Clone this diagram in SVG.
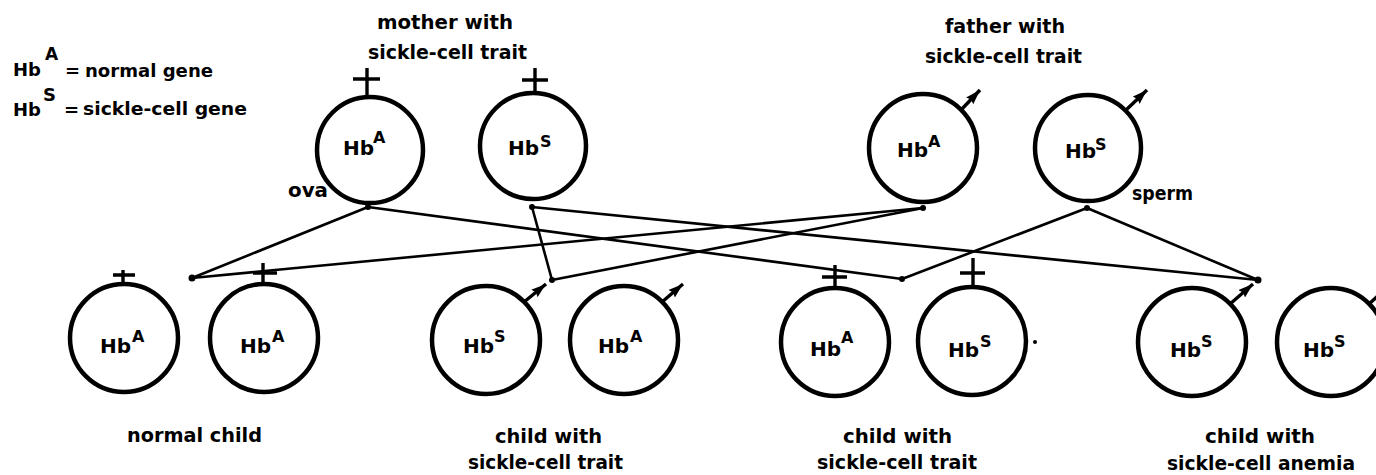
<svg xmlns="http://www.w3.org/2000/svg" width="1376" height="475" viewBox="0 0 1376 475">
<defs>
<style>
.cell{fill:none;stroke:#000;stroke-width:4.5}
.sym{fill:none;stroke:#000;stroke-width:3.4}
.con{fill:none;stroke:#000;stroke-width:2.6;stroke-linecap:round}
.dot{fill:#000}
text{font-family:"DejaVu Sans","Liberation Sans",Arial,sans-serif;font-weight:bold;fill:#000}
.hb{font-size:20px}
.sup{font-size:16px}
.lbl{font-size:19px}
.leg{font-size:18px}
</style>
<marker id="ah" markerUnits="userSpaceOnUse" markerWidth="18" markerHeight="12" refX="15" refY="5" orient="auto">
<path d="M0,0 L15,5 L0,10 L2,5 Z" fill="#000"/>
</marker>
</defs>
<rect width="1376" height="475" fill="#fff"/>

<g id="legend">
<text class="hb" x="13" y="76" style="font-size:18px">Hb</text><text class="sup" x="45" y="60" style="font-size:17px">A</text>
<text class="leg" x="65" y="77">=</text>
<text class="leg" x="85" y="77" textLength="128" lengthAdjust="spacingAndGlyphs">normal gene</text>
<text class="hb" x="13" y="116" style="font-size:18px">Hb</text><text class="sup" x="43" y="101" style="font-size:18px">S</text>
<text class="leg" x="64" y="116">=</text>
<text class="leg" x="83" y="115" textLength="164" lengthAdjust="spacingAndGlyphs">sickle-cell gene</text>
</g>

<g id="mother-label">
<text class="lbl" x="377" y="29" textLength="136" lengthAdjust="spacingAndGlyphs">mother with</text>
<text class="lbl" x="368" y="59" textLength="159" lengthAdjust="spacingAndGlyphs">sickle-cell trait</text>
</g>
<g id="father-label">
<text class="lbl" x="945" y="33" textLength="120" lengthAdjust="spacingAndGlyphs">father with</text>
<text class="lbl" x="925" y="63" textLength="157" lengthAdjust="spacingAndGlyphs">sickle-cell trait</text>
</g>
<g id="ova-label"><text class="lbl" x="288" y="197" textLength="40" lengthAdjust="spacingAndGlyphs">ova</text></g>
<g id="sperm-label"><text class="lbl" x="1132" y="200" textLength="61" lengthAdjust="spacingAndGlyphs">sperm</text></g>

<g id="mother-A">
<circle class="cell" cx="370" cy="150" r="53"/>
<path class="sym" d="M367,97 V68 M353,79 H380"/>
<text class="hb" x="343" y="155">Hb</text><text class="sup" x="373" y="143">A</text>
</g>
<g id="mother-S">
<circle class="cell" cx="533" cy="146" r="53"/>
<path class="sym" d="M535,93 V68 M522,80 H548"/>
<text class="hb" x="508" y="155">Hb</text><text class="sup" x="540" y="147">S</text>
</g>
<g id="father-A">
<circle class="cell" cx="923" cy="148" r="54"/>
<line class="sym" x1="961" y1="110" x2="980" y2="90" marker-end="url(#ah)"/>
<text class="hb" x="897" y="157">Hb</text><text class="sup" x="928" y="147">A</text>
</g>
<g id="father-S">
<circle class="cell" cx="1088" cy="148" r="53"/>
<line class="sym" x1="1126" y1="110" x2="1147" y2="90" marker-end="url(#ah)"/>
<text class="hb" x="1065" y="158">Hb</text><text class="sup" x="1095" y="150">S</text>
</g>

<g id="connectors">
<line class="con" x1="368" y1="207" x2="192" y2="278"/>
<line class="con" x1="923" y1="208" x2="192" y2="278"/>
<line class="con" x1="368" y1="207" x2="902" y2="279"/>
<line class="con" x1="532" y1="207" x2="552" y2="280"/>
<line class="con" x1="923" y1="208" x2="552" y2="280"/>
<line class="con" x1="532" y1="207" x2="1258" y2="280"/>
<line class="con" x1="1087" y1="208" x2="902" y2="279"/>
<line class="con" x1="1087" y1="208" x2="1258" y2="280"/>
<circle class="dot" cx="368" cy="207" r="3"/>
<circle class="dot" cx="532" cy="207" r="3"/>
<circle class="dot" cx="923" cy="208" r="3"/>
<circle class="dot" cx="1087" cy="208" r="3"/>
<circle class="dot" cx="192" cy="278" r="3.5"/>
<circle class="dot" cx="552" cy="280" r="3"/>
<circle class="dot" cx="902" cy="279" r="3"/>
<circle class="dot" cx="1258" cy="280" r="3.5"/>
</g>

<g id="child1-A">
<circle class="cell" cx="124" cy="338" r="54"/>
<path class="sym" d="M123,284 V270 M113,275 H135"/>
<text class="hb" x="100" y="353">Hb</text><text class="sup" x="132" y="342">A</text>
</g>
<g id="child1-A2">
<circle class="cell" cx="264" cy="338" r="54"/>
<path class="sym" d="M263,284 V263 M253,273 H277"/>
<text class="hb" x="240" y="353">Hb</text><text class="sup" x="272" y="342">A</text>
</g>
<g id="child2-S">
<circle class="cell" cx="486" cy="340" r="54"/>
<line class="sym" x1="524" y1="302" x2="546" y2="284" marker-end="url(#ah)"/>
<text class="hb" x="463" y="353">Hb</text><text class="sup" x="494" y="342">S</text>
</g>
<g id="child2-A">
<circle class="cell" cx="624" cy="340" r="54"/>
<line class="sym" x1="662" y1="302" x2="683" y2="284" marker-end="url(#ah)"/>
<text class="hb" x="598" y="353">Hb</text><text class="sup" x="630" y="342">A</text>
</g>
<g id="child3-A">
<circle class="cell" cx="835" cy="342" r="54"/>
<path class="sym" d="M835,288 V265 M822,277 H847"/>
<text class="hb" x="810" y="356">Hb</text><text class="sup" x="841" y="343">A</text>
</g>
<g id="child3-S">
<circle class="cell" cx="972" cy="341" r="54"/>
<path class="sym" d="M973,287 V258 M960,273 H985"/>
<text class="hb" x="948" y="357">Hb</text><text class="sup" x="980" y="347">S</text>
<circle class="dot" cx="1035" cy="342" r="2"/>
</g>
<g id="child4-S">
<circle class="cell" cx="1192" cy="342" r="54"/>
<line class="sym" x1="1230" y1="304" x2="1253" y2="284" marker-end="url(#ah)"/>
<text class="hb" x="1170" y="357">Hb</text><text class="sup" x="1201" y="347">S</text>
</g>
<g id="child4-S2">
<circle class="cell" cx="1331" cy="342" r="54"/>
<line class="sym" x1="1369" y1="304" x2="1390" y2="285" marker-end="url(#ah)"/>
<text class="hb" x="1303" y="357">Hb</text><text class="sup" x="1334" y="347">S</text>
</g>

<g id="label-normal">
<text class="lbl" x="127" y="442" textLength="135" lengthAdjust="spacingAndGlyphs">normal child</text>
</g>
<g id="label-trait1">
<text class="lbl" x="495" y="443" textLength="107" lengthAdjust="spacingAndGlyphs">child with</text>
<text class="lbl" x="468" y="469" textLength="155" lengthAdjust="spacingAndGlyphs">sickle-cell trait</text>
</g>
<g id="label-trait2">
<text class="lbl" x="843" y="443" textLength="109" lengthAdjust="spacingAndGlyphs">child with</text>
<text class="lbl" x="817" y="469" textLength="160" lengthAdjust="spacingAndGlyphs">sickle-cell trait</text>
</g>
<g id="label-anemia">
<text class="lbl" x="1205" y="443" textLength="110" lengthAdjust="spacingAndGlyphs">child with</text>
<text class="lbl" x="1167" y="470" textLength="188" lengthAdjust="spacingAndGlyphs">sickle-cell anemia</text>
</g>
</svg>
